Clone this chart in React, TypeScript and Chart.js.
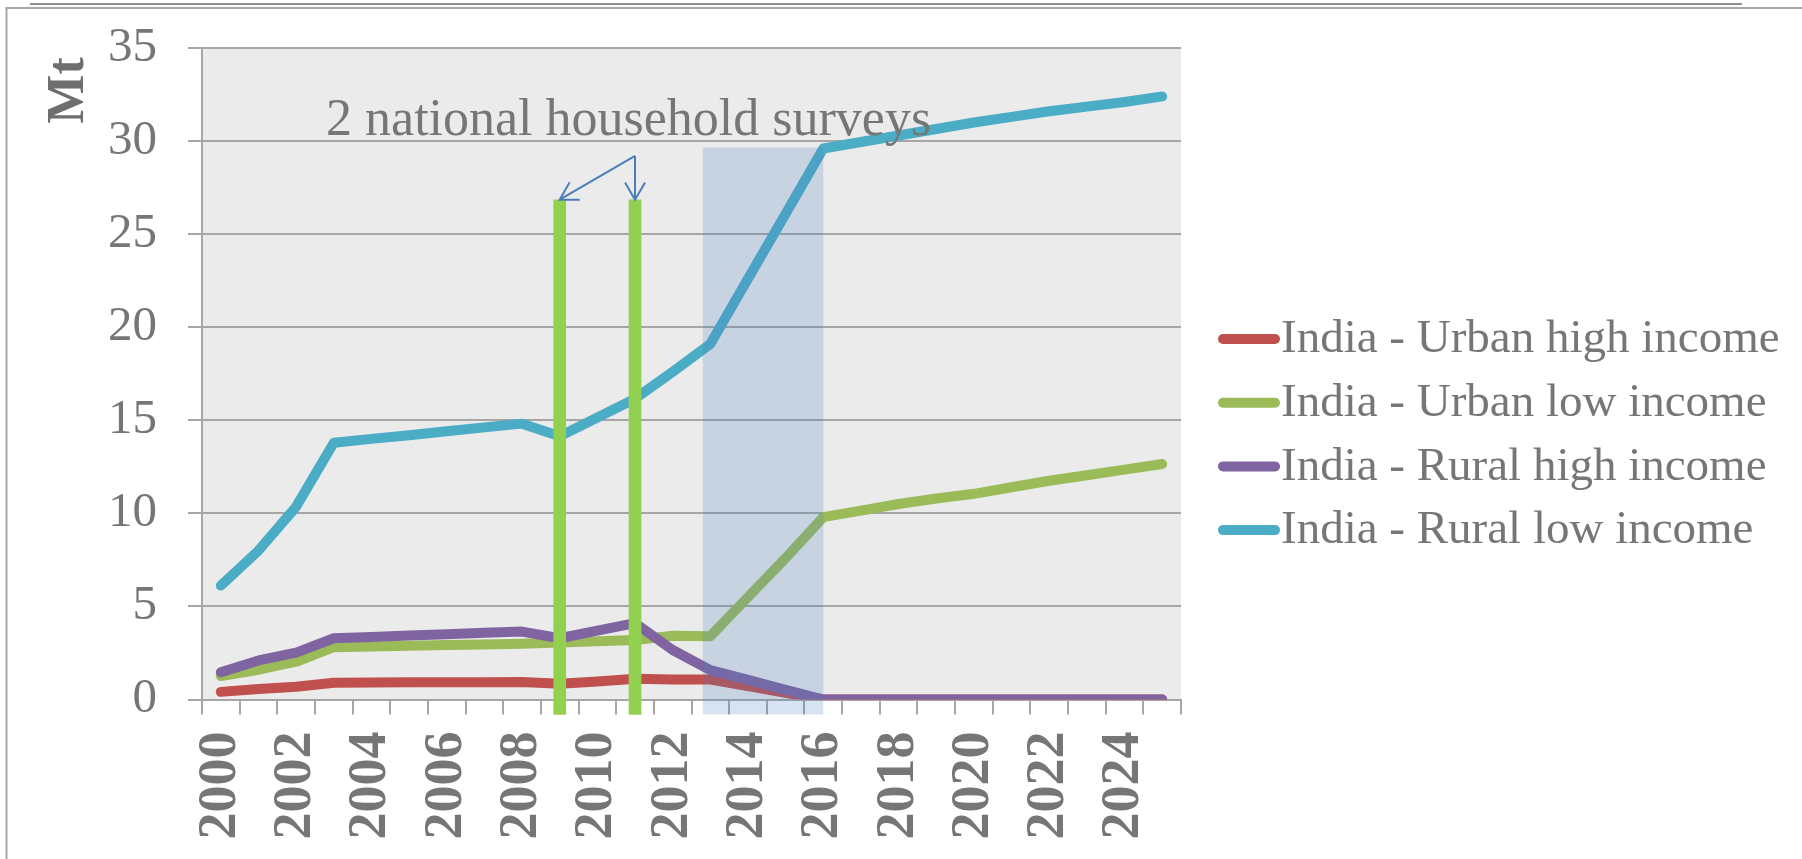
import React, { useEffect, useRef } from "react";
import { Chart, registerables } from "chart.js";

Chart.register(...registerables);

// ---------- data ----------
const years = [
  "2000", "2001", "2002", "2003", "2004", "2005", "2006", "2007", "2008", "2009",
  "2010", "2011", "2012", "2013", "2014", "2015", "2016", "2017", "2018", "2019",
  "2020", "2021", "2022", "2023", "2024", "2025",
];

const urbanHigh = [
  0.41, 0.56, 0.68, 0.9, 0.91, 0.92, 0.92, 0.93, 0.94, 0.84,
  0.97, 1.11, 1.08, 1.07, 0.72, 0.36, 0, 0, 0, 0,
  0, 0, 0, 0, 0, 0,
];
const urbanLow = [
  1.26, 1.6, 2.03, 2.81, 2.85, 2.89, 2.93, 2.96, 3.0, 3.06,
  3.13, 3.2, 3.42, 3.4, 5.5, 7.6, 9.8, 10.15, 10.5, 10.8,
  11.05, 11.4, 11.75, 12.05, 12.35, 12.65,
];
const ruralHigh = [
  1.46, 2.1, 2.52, 3.29, 3.36, 3.44, 3.51, 3.58, 3.65, 3.29,
  3.7, 4.1, 2.66, 1.58, 1.05, 0.52, 0, 0, 0, 0,
  0, 0, 0, 0, 0, 0,
];
const ruralLow = [
  6.12, 8.0, 10.36, 13.79, 14.0, 14.2, 14.41, 14.62, 14.82, 14.14,
  15.15, 16.16, 17.6, 19.1, 22.6, 26.1, 29.6, 29.95, 30.3, 30.65,
  31.0, 31.3, 31.6, 31.85, 32.1, 32.4,
];

const seriesLabels = [
  "India - Urban high income",
  "India - Urban low income",
  "India - Rural high income",
  "India - Rural low income",
];
const seriesColors = ["#C0504D", "#9BBB59", "#8064A2", "#4BACC6"];

const surveyYears = ["2009", "2011"];
const surveyTop = 26.85;
const surveyBase = -0.8;

const annotationText = "2 national household surveys";
const axisTitle = "Mt";

// shaded band (category-index units) and its top value
const shadeFrom = 12.8;
const shadeTo = 16;
const shadeTop = 29.65;
const arrowApexValue = 29.2;

// ---------- styling ----------
const GRAY_TEXT = "#767676";
const GRID = "#A6A6A6";
const SERIF = "'Liberation Serif', 'Times New Roman', serif";
const LINE_W = 10;

const decorPlugin = {
  id: "decor",
  beforeDraw(chart: any) {
    const { ctx, chartArea: a } = chart;
    ctx.save();
    ctx.fillStyle = "#EBEBEB";
    ctx.fillRect(a.left, a.top, a.right - a.left, a.bottom - a.top);
    // outer frame
    ctx.strokeStyle = "#A8A8A8";
    ctx.lineWidth = 2;
    ctx.beginPath();
    ctx.moveTo(6.5, chart.height);
    ctx.lineTo(6.5, 8);
    ctx.lineTo(chart.width, 8);
    ctx.stroke();
    ctx.strokeStyle = "#6A6A6A";
    ctx.lineWidth = 1.5;
    ctx.beginPath();
    ctx.moveTo(30, 4);
    ctx.lineTo(1742, 4);
    ctx.stroke();
    ctx.restore();
  },
  afterDatasetsDraw(chart: any) {
    const { ctx } = chart;
    const xs = chart.scales.x;
    const ys = chart.scales.y;
    ctx.save();
    // shaded band
    const x0 = xs.getPixelForValue(shadeFrom);
    const x1 = xs.getPixelForValue(shadeTo);
    const yT = ys.getPixelForValue(shadeTop);
    const yB = ys.getPixelForValue(surveyBase);
    ctx.fillStyle = "rgba(79,129,189,0.22)";
    ctx.fillRect(x0, yT, x1 - x0, yB - yT);

    // annotation text
    ctx.fillStyle = GRAY_TEXT;
    ctx.font = `52px ${SERIF}`;
    ctx.textAlign = "center";
    ctx.textBaseline = "alphabetic";
    ctx.fillText(annotationText, xs.getPixelForValue(10.83), ys.getPixelForValue(30.35));

    // arrows
    const apexX = xs.getPixelForValue(years.indexOf(surveyYears[1]));
    const apexY = ys.getPixelForValue(arrowApexValue);
    ctx.strokeStyle = "#4A7EBB";
    ctx.lineWidth = 2;
    ctx.lineCap = "butt";
    for (const yr of surveyYears) {
      const tx = xs.getPixelForValue(years.indexOf(yr));
      const ty = ys.getPixelForValue(surveyTop);
      ctx.beginPath();
      ctx.moveTo(apexX, apexY);
      ctx.lineTo(tx, ty);
      ctx.stroke();
      const ang = Math.atan2(apexY - ty, apexX - tx);
      const len = 20;
      ctx.beginPath();
      ctx.moveTo(tx + len * Math.cos(ang + Math.PI / 6), ty + len * Math.sin(ang + Math.PI / 6));
      ctx.lineTo(tx, ty);
      ctx.lineTo(tx + len * Math.cos(ang - Math.PI / 6), ty + len * Math.sin(ang - Math.PI / 6));
      ctx.stroke();
    }
    ctx.restore();
  },
  afterDraw(chart: any) {
    const { ctx } = chart;
    ctx.save();
    // y-axis title
    ctx.fillStyle = "#6E6E6E";
    ctx.font = `bold 52px ${SERIF}`;
    ctx.translate(70, 90.5);
    ctx.rotate(-Math.PI / 2);
    ctx.textAlign = "center";
    ctx.textBaseline = "middle";
    ctx.fillText(axisTitle, 0, 0);
    ctx.restore();

    // legend
    ctx.save();
    const lines = chart.data.datasets.filter((d: any) => d.type !== "bar");
    const rowY0 = 339;
    const rowStep = 63.7;
    lines.forEach((d: any, i: number) => {
      const cy = rowY0 + i * rowStep;
      ctx.strokeStyle = d.borderColor;
      ctx.lineWidth = LINE_W;
      ctx.lineCap = "round";
      ctx.beginPath();
      ctx.moveTo(1223, cy);
      ctx.lineTo(1275, cy);
      ctx.stroke();
      ctx.fillStyle = GRAY_TEXT;
      ctx.font = `47px ${SERIF}`;
      ctx.textAlign = "left";
      ctx.textBaseline = "alphabetic";
      ctx.fillText(d.label, 1281, cy + 13.3);
    });
    ctx.restore();
  },
};

export default function App() {
  const canvasRef = useRef<HTMLCanvasElement | null>(null);

  useEffect(() => {
    if (!canvasRef.current) return;
    const seriesData = [urbanHigh, urbanLow, ruralHigh, ruralLow];
    const lineSets = seriesData.map((data, i) => ({
      type: "line" as const,
      label: seriesLabels[i],
      data,
      borderColor: seriesColors[i],
      backgroundColor: seriesColors[i],
      borderWidth: LINE_W,
      pointRadius: 0,
      pointHoverRadius: 0,
      tension: 0,
      fill: false,
      borderCapStyle: "round" as const,
      borderJoinStyle: "round" as const,
      order: 4 - i,
    }));
    const surveyData = years.map((y) =>
      surveyYears.includes(y) ? [surveyBase, surveyTop] : null
    );
    const chart = new Chart(canvasRef.current, {
      type: "line",
      data: {
        labels: years,
        datasets: [
          ...lineSets,
          {
            type: "bar" as const,
            label: "surveys",
            data: surveyData as any,
            backgroundColor: "#92D050",
            borderWidth: 0,
            barThickness: 12,
            clip: false as any,
            order: 0,
          } as any,
        ],
      },
      options: {
        responsive: false,
        animation: false,
        devicePixelRatio: 1,
        layout: { padding: { left: 0, top: 48, right: 621, bottom: 0 } },
        plugins: {
          legend: { display: false },
          tooltip: { enabled: false },
        },
        scales: {
          x: {
            type: "category",
            offset: true,
            grid: {
              offset: true,
              drawOnChartArea: false,
              drawTicks: true,
              tickLength: 15,
              color: GRID,
              lineWidth: 2,
            },
            border: { display: true, color: GRID, width: 2 },
            ticks: {
              autoSkip: false,
              minRotation: 90,
              maxRotation: 90,
              padding: 17,
              color: GRAY_TEXT,
              font: { family: SERIF, size: 54, weight: "bold" },
              callback: (_v: any, i: number) => (i % 2 === 0 ? years[i] : ""),
            },
            afterFit: (s: any) => {
              s.height = 159.5;
              s.paddingLeft = 0;
              s.paddingRight = 0;
            },
          },
          y: {
            min: 0,
            max: 35,
            ticks: {
              stepSize: 5,
              padding: 31,
              color: GRAY_TEXT,
              font: { family: SERIF, size: 49 },
            },
            grid: { color: GRID, lineWidth: 2, tickLength: 14 },
            border: { display: true, color: GRID, width: 2 },
            afterFit: (s: any) => {
              s.width = 202;
              s.paddingTop = 0;
              s.paddingBottom = 0;
            },
          },
        },
      } as any,
      plugins: [decorPlugin],
    });
    return () => chart.destroy();
  }, []);

  return (
    <div style={{ position: "fixed", left: 0, top: 0, width: 1802, height: 859, background: "#fff" }}>
      <canvas ref={canvasRef} width={1802} height={859} style={{ width: 1802, height: 859, display: "block" }} />
    </div>
  );
}
